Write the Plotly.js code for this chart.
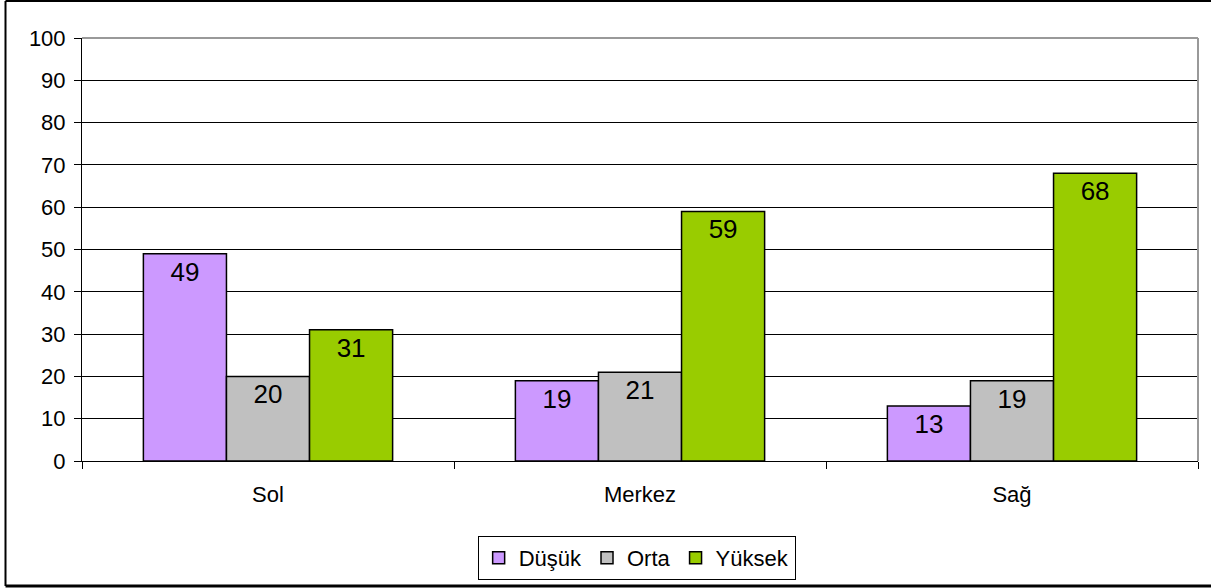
<!DOCTYPE html>
<html>
<head>
<meta charset="utf-8">
<script src="https://cdn.plot.ly/plotly-3.0.1.min.js"></script>
<style>
html,body{margin:0;padding:0;background:#fff;}
#chart{width:1211px;height:588px;}
</style>
</head>
<body>
<div id="chart"></div>
<script>
var categories = ["Sol", "Merkez", "Sağ"];
var seriesNames = ["Düşük", "Orta", "Yüksek"];
var dusuk = [49, 19, 13];
var orta = [20, 21, 19];
var yuksek = [31, 59, 68];
var colors = ["#CC99FF", "#C0C0C0", "#99CC00"];
var yTicks = [0, 10, 20, 30, 40, 50, 60, 70, 80, 90, 100];

var FONT = "Liberation Sans, Arial, sans-serif";
var W = 1211, H = 588;
var M = {l: 82, r: 13, t: 38, b: 127, autoexpand: false};
var pw = W - M.l - M.r, ph = H - M.t - M.b;
function px(x){ return (x - M.l) / pw; }
function py(y){ return (H - M.b - y) / ph; }

var values = [dusuk, orta, yuksek];
var traces = values.map(function(v, i){
  return {
    type: "bar",
    name: seriesNames[i],
    x: categories,
    y: v,
    text: v.map(String),
    textposition: "inside",
    insidetextanchor: "end",
    textangle: 0,
    textfont: {family: FONT, size: 26, color: "#000"},
    marker: {color: colors[i], line: {color: "#000", width: 1.5}},
    hoverinfo: "x+y+name"
  };
});

var layout = {
  width: W, height: H,
  margin: M,
  paper_bgcolor: "#fff",
  plot_bgcolor: "#fff",
  font: {family: FONT, size: 22, color: "#000"},
  barmode: "group",
  bargap: 0.33,
  bargroupgap: 0,
  showlegend: true,
  legend: {
    orientation: "h",
    x: 0.497, xanchor: "center",
    y: py(536), yanchor: "top",
    bordercolor: "#000", borderwidth: 1,
    bgcolor: "#fff",
    font: {family: FONT, size: 22, color: "#000"},
    itemwidth: 30,
    tracegroupgap: 0,
    traceorder: "normal"
  },
  xaxis: {
    type: "category",
    showgrid: false,
    showline: true, linecolor: "#000", linewidth: 1,
    ticks: "outside", tickson: "boundaries", ticklen: 7, tickcolor: "#000",
    ticklabelstandoff: 14,
    tickfont: {family: FONT, size: 22, color: "#000"},
    fixedrange: true
  },
  yaxis: {
    range: [0, 100],
    tickvals: yTicks,
    ticktext: yTicks.map(String),
    showgrid: true, gridcolor: "#000", gridwidth: 1,
    zeroline: false,
    showline: true, linecolor: "#000", linewidth: 1,
    ticks: "outside", ticklen: 7, tickcolor: "#000",
    ticklabelstandoff: 4,
    tickfont: {family: FONT, size: 22, color: "#000"},
    fixedrange: true
  },
  shapes: [
    {type: "line", xref: "paper", yref: "paper", x0: 0, x1: 1, y0: 1, y1: 1, line: {color: "#999", width: 2}},
    {type: "line", xref: "paper", yref: "paper", x0: 1, x1: 1, y0: 0, y1: 1, line: {color: "#999", width: 2}},
    {type: "line", xref: "paper", yref: "paper", x0: px(5.5), x1: px(5.5), y0: py(1), y1: py(586), line: {color: "#000", width: 2}},
    {type: "line", xref: "paper", yref: "paper", x0: px(5.5), x1: px(1211), y0: py(1), y1: py(1), line: {color: "#000", width: 2}},
    {type: "line", xref: "paper", yref: "paper", x0: px(5.5), x1: px(1211), y0: py(586), y1: py(586), line: {color: "#000", width: 3}}
  ]
};

Plotly.newPlot("chart", traces, layout, {displayModeBar: false, staticPlot: true});
</script>
</body>
</html>
